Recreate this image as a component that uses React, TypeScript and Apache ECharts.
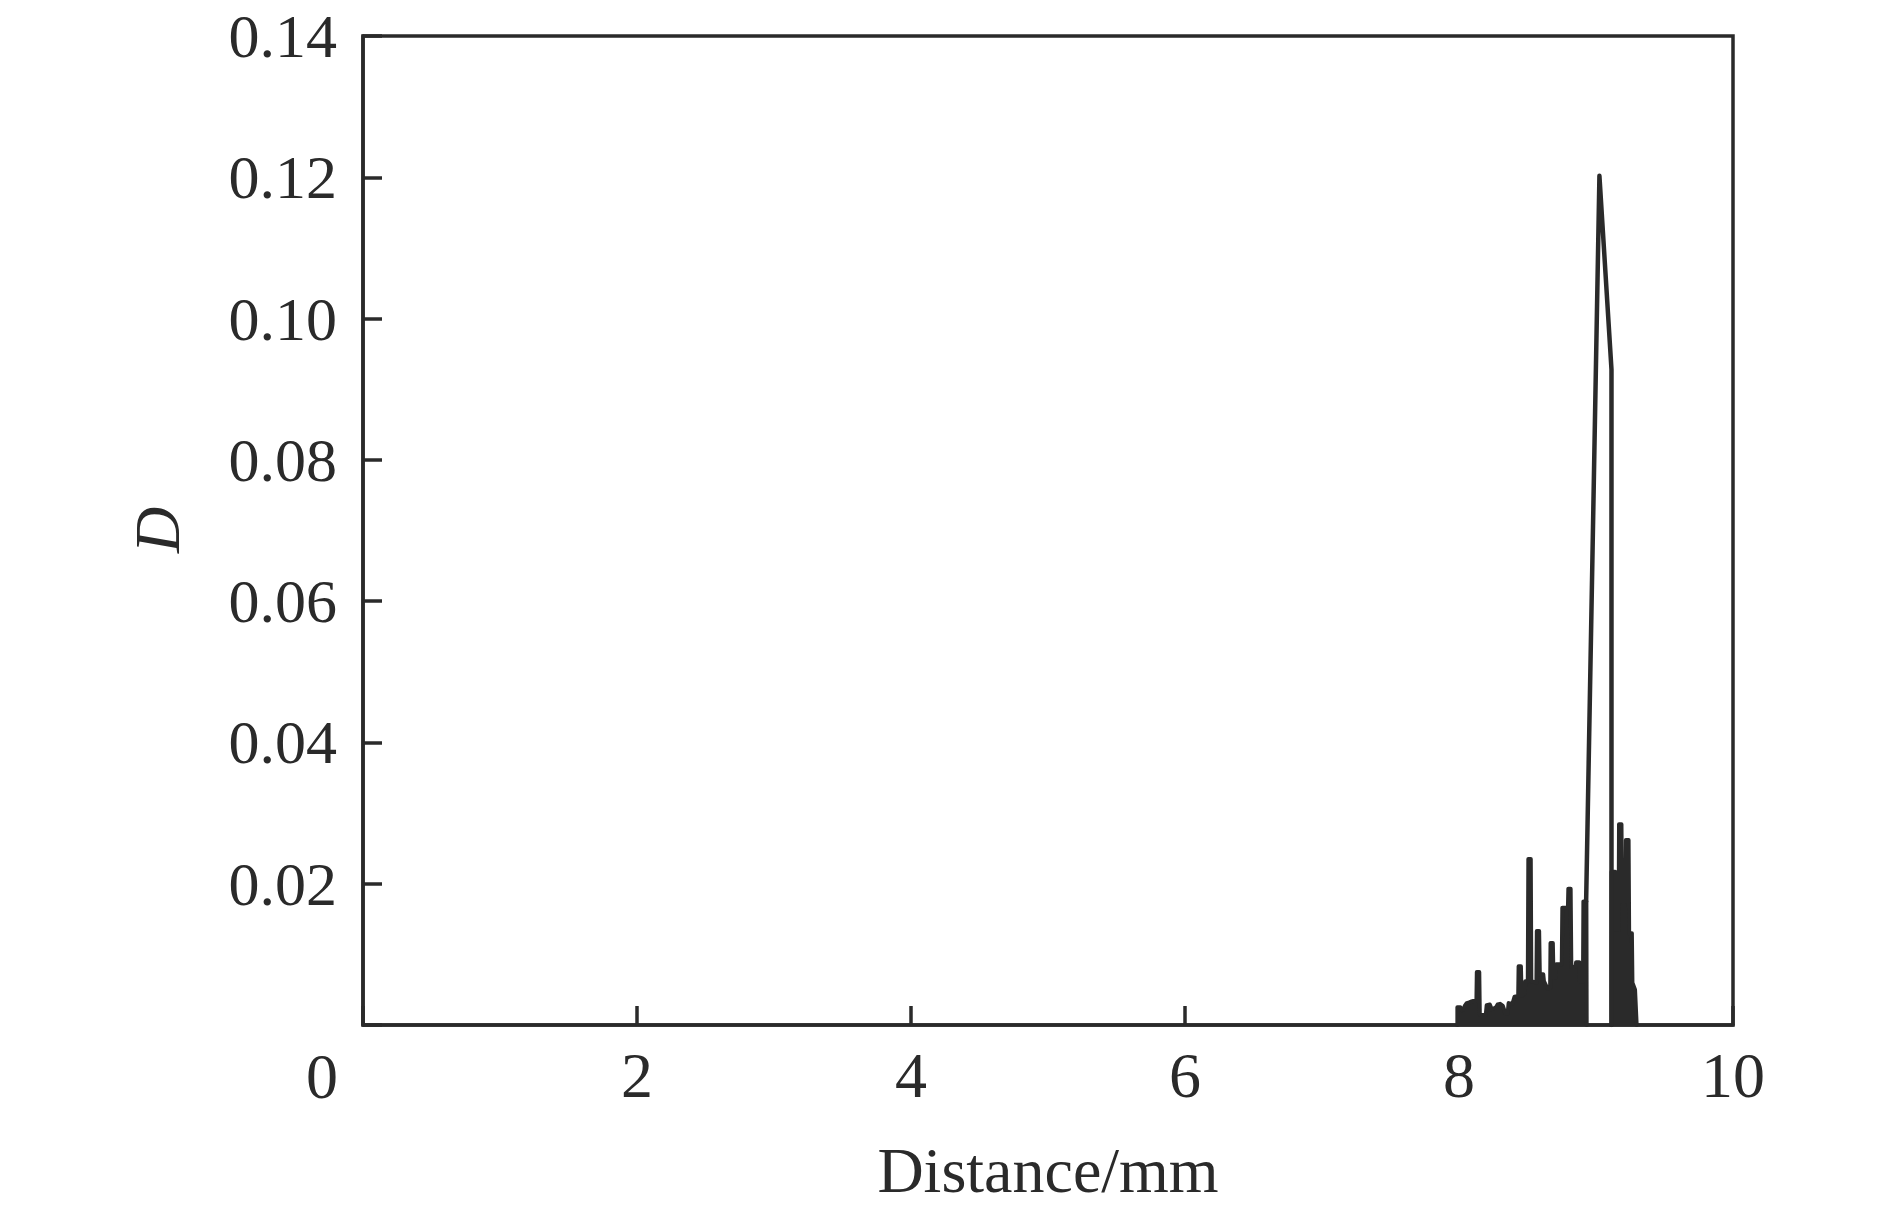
import React, { useEffect, useRef } from "react";
import * as echarts from "echarts";

// Tick labels
const xTicks = [0, 2, 4, 6, 8, 10];
const yTicks = [0, 0.02, 0.04, 0.06, 0.08, 0.1, 0.12, 0.14];

// Left noisy cluster (Distance/mm, D)
const leftCluster: [number, number][] = [
  [7.988, 0], [7.988, 0.0025], [8.010, 0.0025], [8.020, 0.0021], [8.032, 0.0022],
  [8.042, 0.0027], [8.056, 0.0031], [8.075, 0.0032], [8.085, 0.0033], [8.104, 0.0034],
  [8.127, 0.0034], [8.130, 0.0075], [8.148, 0.0075], [8.152, 0.0015], [8.165, 0.0014],
  [8.195, 0.0014], [8.202, 0.0028], [8.225, 0.0029], [8.240, 0.0022], [8.270, 0.0025],
  [8.282, 0.0029], [8.300, 0.0030], [8.320, 0.0027], [8.337, 0.0017], [8.355, 0.0016],
  [8.362, 0.0031], [8.390, 0.0030], [8.405, 0.0040], [8.432, 0.0041], [8.435, 0.0083],
  [8.452, 0.0083], [8.457, 0.0041], [8.480, 0.0045], [8.484, 0.0062], [8.502, 0.0062],
  [8.506, 0.0235], [8.524, 0.0235], [8.528, 0.0062], [8.565, 0.0060], [8.568, 0.0133],
  [8.585, 0.0133], [8.590, 0.0072], [8.615, 0.0072], [8.620, 0.0062], [8.645, 0.0052],
  [8.665, 0.0052], [8.668, 0.0116], [8.685, 0.0116], [8.690, 0.0067], [8.705, 0.0067],
  [8.710, 0.0086], [8.750, 0.0086], [8.754, 0.0166], [8.795, 0.0166], [8.798, 0.0193],
  [8.815, 0.0193], [8.820, 0.0082], [8.850, 0.0082], [8.855, 0.0089], [8.878, 0.0089],
  [8.882, 0.0062], [8.905, 0.0062], [8.908, 0.0175], [8.930, 0.0175], [8.932, 0],
];

// Main peak line
const peakLine: [number, number][] = [
  [8.928, 0.0175], [9.025, 0.1202], [9.113, 0.0928], [9.113, 0],
];

// Right noisy cluster
const rightCluster: [number, number][] = [
  [9.113, 0], [9.113, 0.0217], [9.140, 0.0217], [9.143, 0.0135], [9.165, 0.0135],
  [9.168, 0.0284], [9.186, 0.0284], [9.190, 0.0175], [9.215, 0.0175], [9.218, 0.0262],
  [9.238, 0.0262], [9.242, 0.0130], [9.262, 0.0130], [9.266, 0.0060], [9.285, 0.0050],
  [9.297, 0],
];

const INK = "#2a2a2a";
const FONT = "Liberation Serif";

export default function App() {
  const ref = useRef<HTMLDivElement>(null);
  useEffect(() => {
    if (!ref.current) return;
    const chart = echarts.init(ref.current, undefined, { renderer: "svg" });
    const gridL = 363, gridR = 157, gridT = 36, gridB = 187;
    chart.setOption({
      animation: false,
      backgroundColor: "#ffffff",
      grid: {
        left: gridL, right: gridR, top: gridT, bottom: gridB,
        show: true, borderColor: INK, borderWidth: 3.5, backgroundColor: "transparent",
      },
      xAxis: {
        type: "value", min: xTicks[0], max: xTicks[xTicks.length - 1], interval: 2,
        axisLine: { show: true, onZero: false, lineStyle: { color: INK, width: 3.5 } },
        axisTick: { show: true, inside: true, length: 19, lineStyle: { color: INK, width: 3.5 } },
        axisLabel: {
          margin: 18, color: INK, fontFamily: FONT, fontSize: 64, lineHeight: 64,
          formatter: (v: number) => (v === 0 ? "" : String(v)),
        },
        splitLine: { show: false },
      },
      yAxis: {
        type: "value", min: yTicks[0], max: yTicks[yTicks.length - 1], interval: 0.02,
        axisLine: { show: true, onZero: false, lineStyle: { color: INK, width: 3.5 } },
        axisTick: { show: true, inside: true, length: 19, lineStyle: { color: INK, width: 3.5 } },
        axisLabel: {
          margin: 26, color: INK, fontFamily: FONT, fontSize: 62, lineHeight: 48,
          formatter: (v: number) => (v === 0 ? "" : v.toFixed(2)),
        },
        splitLine: { show: false },
      },
      graphic: [
        {
          type: "text", x: 322, y: 1076,
          style: { text: "0", fill: INK, font: `64px "${FONT}"`, align: "center", verticalAlign: "middle" },
        },
        {
          type: "text", x: 1048, y: 1170,
          style: { text: "Distance/mm", fill: INK, font: `64px "${FONT}"`, align: "center", verticalAlign: "middle" },
        },
        {
          type: "text", x: 157, y: 530, rotation: Math.PI / 2,
          style: { text: "D", fill: INK, font: `italic 64px "${FONT}"`, align: "center", verticalAlign: "middle" },
        },
      ],
      series: [
        {
          type: "line", data: leftCluster, showSymbol: false, symbol: "none",
          lineStyle: { color: INK, width: 4, join: "round", cap: "round" }, areaStyle: { color: INK, opacity: 1 },
          z: 2,
        },
        {
          type: "line", data: rightCluster, showSymbol: false, symbol: "none",
          lineStyle: { color: INK, width: 4, join: "round", cap: "round" }, areaStyle: { color: INK, opacity: 1 },
          z: 2,
        },
        {
          type: "line", data: peakLine, showSymbol: false, symbol: "none",
          lineStyle: { color: INK, width: 4.5, join: "round", cap: "round" }, z: 3,
        },
      ],
    });
    return () => chart.dispose();
  }, []);
  return (
    <div
      ref={ref}
      style={{ position: "fixed", left: 0, top: 0, width: 1890, height: 1212, background: "#fff" }}
    />
  );
}
